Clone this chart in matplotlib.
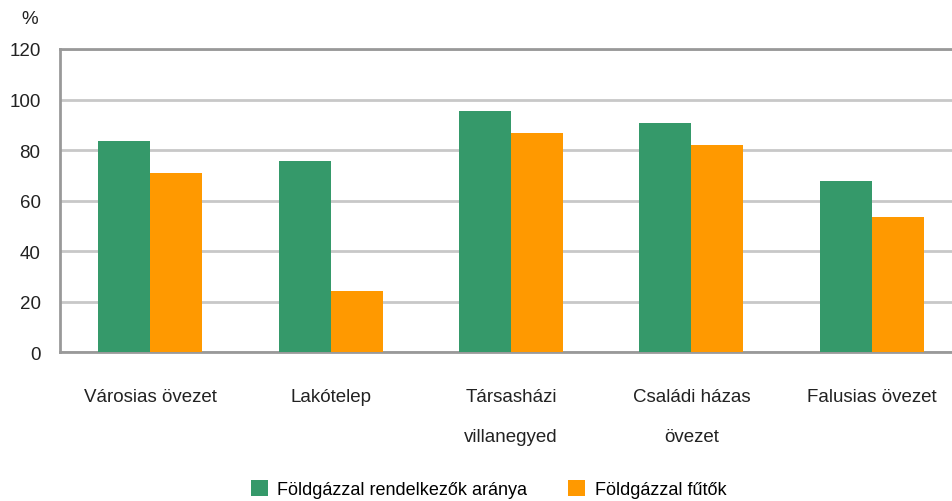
import matplotlib.pyplot as plt
import numpy as np

plt.rcParams['font.family'] = ['Liberation Sans', 'DejaVu Sans']

# adatok
categories = ['Városias övezet', 'Lakótelep', 'Társasházi\nvillanegyed',
              'Családi házas\növezet', 'Falusias övezet']
rendelkezok = [83.6, 75.6, 95.4, 90.7, 67.7]
futok = [70.9, 24.2, 86.7, 82.0, 53.5]
yticks = [0, 20, 40, 60, 80, 100, 120]

green = '#35996a'
orange = '#ff9900'
ind = np.arange(len(categories))
width = 0.288
fs = 13.5

fig = plt.figure(figsize=(9.52, 5.02), dpi=100)
ax = fig.add_axes([0.063, 0.2968, 0.9475, 0.6036])

ax.bar(ind - width / 2, rendelkezok, width, color=green,
       label='Földgázzal rendelkezők aránya', zorder=3)
ax.bar(ind + width / 2, futok, width, color=orange,
       label='Földgázzal fűtők', zorder=3)

ax.set_xlim(-0.5, len(categories) - 0.5)
ax.set_ylim(0, 120)
ax.set_yticks(yticks)
ax.yaxis.grid(True, color='#c8c8c8', linewidth=2, zorder=0)
ax.set_axisbelow(True)

for s in ['left', 'bottom', 'top']:
    ax.spines[s].set_color('#999999')
    ax.spines[s].set_linewidth(2)
ax.spines['right'].set_visible(False)

ax.set_xticks(ind)
ax.set_xticklabels(categories, fontsize=fs, linespacing=2.75, color='#222222')
ax.tick_params(axis='x', length=0, pad=26)
ax.tick_params(axis='y', length=0, pad=14, labelsize=fs, labelcolor='#222222')

fig.text(30 / 952, 1 - 20 / 502, '%', fontsize=fs, ha='center', va='center',
         color='#222222')

fig.legend(loc='center', bbox_to_anchor=(0.513, 1 - 490 / 502), ncol=2,
           frameon=False, fontsize=13, handlelength=0.95, handleheight=1.0,
           handletextpad=0.5, columnspacing=2.3)

fig.savefig('out.png', dpi=100)
